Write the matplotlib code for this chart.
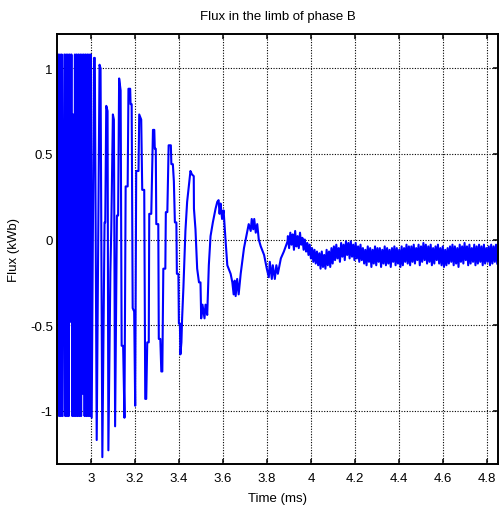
import matplotlib.pyplot as plt

# flux in limb B (time in ms, flux in kWb)

# start of the record: dense switching, one value per half period
dense_t0 = 2.847
dense_step = 0.0040
dense_flux = [-0.20, 1.08, -1.03, 1.08, -1.03, 1.08, -1.03, 0.00, 1.08,
              -1.03, 1.08, -1.03, 1.08, -1.03, 1.08, -0.48, 1.08, -1.03,
              0.73, -1.03, 1.08, -1.03, 1.08, -1.03, 1.08, -1.03, 1.08,
              -1.03, 1.08, -0.90, 1.08, -1.03, 1.08, -1.03, 1.08, -1.03,
              1.08, -1.03, 1.08]

# decaying cycles with the stepped edges
t_decay = [3.0032, 3.0137, 3.0174, 3.0260, 3.0388, 3.0434, 3.0516, 3.0616,
           3.0648, 3.0694, 3.0753, 3.0790, 3.0881, 3.0922, 3.0995, 3.1041,
           3.1096, 3.1178, 3.1233, 3.1279, 3.1347, 3.1393, 3.1461, 3.1521,
           3.1575, 3.1667, 3.1703, 3.1781, 3.1799, 3.1849, 3.1895, 3.1963,
           3.2009, 3.2055, 3.2160, 3.2192, 3.2283, 3.2329, 3.2420, 3.2466,
           3.2511, 3.2557, 3.2626, 3.2648, 3.2740, 3.2817, 3.2877, 3.2900,
           3.2945, 3.2968, 3.3059, 3.3082, 3.3151, 3.3196, 3.3242, 3.3288,
           3.3379, 3.3402, 3.3470, 3.3530, 3.3630, 3.3653, 3.3721, 3.3767,
           3.3813, 3.3881, 3.3904, 3.3973, 3.3995, 3.4041, 3.4064, 3.4110,
           3.4142, 3.4201, 3.4292, 3.4370, 3.4521, 3.4589, 3.4671, 3.4680,
           3.4749, 3.4826, 3.4909, 3.4977, 3.5009, 3.5068, 3.5160, 3.5205,
           3.5283, 3.5356, 3.5434, 3.5539, 3.5662, 3.5740, 3.5799, 3.5845,
           3.5890, 3.5959, 3.6027, 3.6119, 3.6196, 3.6347, 3.6425, 3.6484,
           3.6530, 3.6575, 3.6644, 3.6712, 3.6804, 3.6954, 3.7110, 3.7169,
           3.7260, 3.7306, 3.7374, 3.7420, 3.7489, 3.7557, 3.7626, 3.7717,
           3.7868, 3.7991, 3.8082, 3.8128, 3.8219, 3.8265, 3.8356, 3.8425,
           3.8493, 3.8630, 3.8767, 3.8936]
flux_decay = [-1.04, 1.06, 1.06, -1.17, 1.02, 1.00, -1.27, 0.10,
              0.10, 0.78, 0.75, -1.23, -0.19, 0.06, 0.73, 0.70,
              -1.09, 0.14, 0.14, 0.94, 0.87, -0.62, -0.62, -1.04,
              0.31, 0.31, 0.88, 0.88, 0.79, 0.79, -0.40, -0.42,
              -0.97, 0.40, 0.40, 0.73, 0.70, 0.29, 0.29, -0.93,
              -0.93, -0.60, -0.60, 0.15, 0.15, 0.64, 0.64, 0.53,
              0.53, 0.09, 0.09, -0.58, -0.58, -0.77, -0.77, -0.17,
              -0.17, 0.16, 0.16, 0.55, 0.55, 0.44, 0.44, 0.34,
              0.10, 0.10, -0.20, -0.20, -0.49, -0.49, -0.67, -0.60,
              -0.46, -0.28, 0.05, 0.22, 0.40, 0.38, 0.37, 0.18,
              0.06, -0.17, -0.25, -0.25, -0.46, -0.38, -0.46, -0.38,
              -0.44, -0.15, 0.02, 0.10, 0.18, 0.22, 0.23, 0.15,
              0.21, 0.12, 0.17, -0.01, -0.15, -0.20, -0.25, -0.32,
              -0.24, -0.33, -0.23, -0.32, -0.20, -0.05, 0.05, 0.09,
              0.05, 0.12, 0.06, 0.12, 0.04, 0.09, 0.00, -0.04,
              -0.09, -0.17, -0.22, -0.13, -0.23, -0.15, -0.23, -0.15,
              -0.20, -0.11, -0.07, -0.01]

# settled tail: one high and one low value per switching period
tail_t0 = 3.895
tail_period = 0.011
tail_hi = [0.02, 0.04, 0.03, 0.05, 0.02, 0.04, 0.01, 0.00,
           -0.02, -0.03, -0.05, -0.06, -0.07,
           -0.08, -0.07, -0.09, -0.06, -0.07, -0.05,
           -0.04, -0.03, -0.05, -0.02, -0.03, -0.01, -0.02, -0.01, -0.03,
           -0.02, -0.04, -0.03,
           -0.05, -0.06, -0.04, -0.05, -0.06, -0.04, -0.05, -0.05, -0.06,
           -0.04, -0.05, -0.06, -0.05, -0.04, -0.05, -0.06, -0.04, -0.05,
           -0.03, -0.04,
           -0.04, -0.03, -0.05, -0.03, -0.04, -0.02, -0.03, -0.04, -0.03,
           -0.05, -0.04, -0.03, -0.05, -0.04, -0.06, -0.05, -0.04, -0.03,
           -0.04, -0.05, -0.03, -0.04, -0.02, -0.04, -0.03, -0.05, -0.03,
           -0.04, -0.03, -0.04, -0.03, -0.05, -0.04, -0.03, -0.04, -0.03]
tail_lo = [-0.05, -0.03, -0.06, -0.04, -0.05, -0.03, -0.06, -0.07,
           -0.09, -0.11, -0.13, -0.14, -0.15,
           -0.17, -0.16, -0.17, -0.15, -0.16, -0.14,
           -0.12, -0.11, -0.13, -0.10, -0.12, -0.09, -0.11, -0.10, -0.12,
           -0.11, -0.13, -0.12,
           -0.14, -0.15, -0.13, -0.16, -0.14, -0.15, -0.13, -0.16, -0.14,
           -0.15, -0.14, -0.16, -0.13, -0.15, -0.14, -0.16, -0.15, -0.13,
           -0.14, -0.15,
           -0.13, -0.14, -0.12, -0.15, -0.13, -0.12, -0.14, -0.13, -0.15,
           -0.14, -0.12, -0.14, -0.15, -0.16, -0.15, -0.14, -0.13, -0.15,
           -0.14, -0.16, -0.13, -0.14, -0.12, -0.15, -0.14, -0.13, -0.15,
           -0.14, -0.13, -0.15, -0.14, -0.13, -0.15, -0.14, -0.13, -0.14]

x_ticks = [3, 3.2, 3.4, 3.6, 3.8, 4, 4.2, 4.4, 4.6, 4.8]
x_labels = ["3", "3.2", "3.4", "3.6", "3.8", "4", "4.2", "4.4", "4.6", "4.8"]
y_ticks = [-1, -0.5, 0, 0.5, 1]
y_labels = ["-1", "-0.5", "0", "0.5", "1"]


def build_series():
    t = [dense_t0 + i * dense_step for i in range(len(dense_flux))]
    flux = list(dense_flux)
    t += t_decay
    flux += flux_decay
    for k, (hi, lo) in enumerate(zip(tail_hi, tail_lo)):
        t += [tail_t0 + k * tail_period, tail_t0 + (k + 0.5) * tail_period]
        flux += [hi, lo]
    return t, flux


def main():
    plt.rcParams["font.family"] = ["Liberation Sans", "DejaVu Sans"]
    plt.rcParams["font.size"] = 9.5

    t, flux = build_series()

    fig = plt.figure(figsize=(5.0, 5.06), dpi=100)
    ax = fig.add_axes([0.114, 0.081, 0.882, 0.850])
    ax.plot(t, flux, color=(0, 0, 1), lw=1.5)

    ax.set_xlim(2.8455, 4.85)
    ax.set_ylim(-1.31, 1.2)
    ax.set_xticks(x_ticks)
    ax.set_xticklabels(x_labels)
    ax.set_yticks(y_ticks)
    ax.set_yticklabels(y_labels)

    ax.grid(True, color="black", lw=0.8, linestyle=(0, (1, 1.4)))
    ax.tick_params(direction="in", length=3.6, width=1.1, top=True, right=True,
                   colors="black", labelsize=9.5)
    ax.tick_params(axis="x", pad=6)
    ax.tick_params(axis="y", pad=3)
    for side in ax.spines.values():
        side.set_linewidth(1.4)
        side.set_color("black")

    ax.set_title("Flux in the limb of phase B", fontsize=9.5, pad=11)
    ax.set_xlabel("Time (ms)", fontsize=9.5)
    ax.set_ylabel("Flux (kWb)", fontsize=9.5)
    ax.xaxis.set_label_coords(0.5, -0.065)
    ax.yaxis.set_label_coords(-0.084, 0.5)

    fig.savefig("out.png", dpi=100)


main()
